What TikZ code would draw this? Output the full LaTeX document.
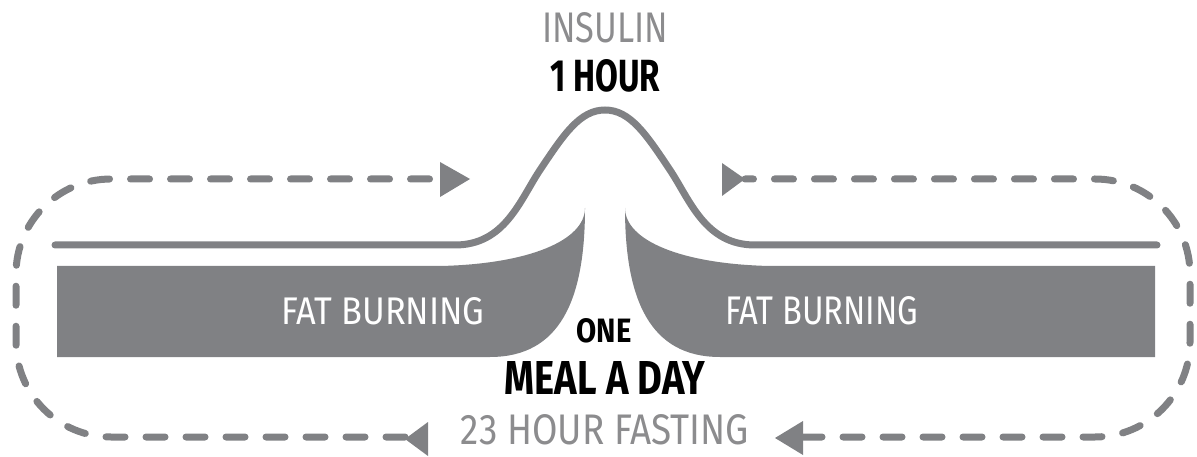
\documentclass[tikz,border=0pt]{standalone}
\usepackage{fontspec}
\setmainfont{Fira Sans}
\usepackage{graphicx}
\definecolor{bandgray}{HTML}{808184}
\definecolor{txtgray}{HTML}{8C8C8E}
\newcommand{\fitbox}[3]{\resizebox{#1pt}{#2pt}{#3}}
\begin{document}
\begin{tikzpicture}[x=1pt,y=-1pt,
  curve/.style={draw=bandgray,line width=7pt,line cap=round},
  loopline/.style={draw=bandgray,line width=7pt,line cap=round,dash pattern=on 19pt off 21pt,rounded corners=95pt},
  tri/.style={fill=bandgray},
  band/.style={fill=bandgray},
  lbl/.style={inner sep=0pt,anchor=center}]
\useasboundingbox (0,0) rectangle (1197,457);
% fat burning bands
\fill[band] (57,266) -- (440,266) .. controls (530,264) and (585,240) .. (585,208)
  .. controls (585,300) and (560,357) .. (490,357) -- (57,357) -- cycle;
\fill[band] (1155,266) -- (770,266) .. controls (680,264) and (625,240) .. (625,208)
  .. controls (625,300) and (650,357) .. (720,357) -- (1155,357) -- cycle;
% insulin curve
\draw[curve] (55,245) -- (455,245) .. controls (505,245) and (520,200) .. (540,170)
  .. controls (564,134) and (580,110) .. (605,110)
  .. controls (630,110) and (646,134) .. (670,170)
  .. controls (690,200) and (705,245) .. (755,245) -- (1157,245);
% dashed loop
\coordinate (bl) at (405,437);
\coordinate (tl) at (440,179);
\coordinate (tr) at (745,179);
\coordinate (br) at (803,437);
\draw[loopline] (br) -- (1190,437) -- (1190,179) -- (tr);
\draw[loopline] (bl) -- (16,437) -- (16,179) -- (tl);
% arrow heads
\fill[tri] (440,162) -- (470,179) -- (440,197) -- cycle;
\fill[tri] (722,163) -- (745,179) -- (722,196) -- cycle;
\fill[tri] (803,421) -- (775,438) -- (803,455) -- cycle;
\fill[tri] (428,422) -- (405,439) -- (428,456) -- cycle;
% texts
\node[lbl,text=txtgray] (insulin) at (605,28) {\fitbox{126}{30}{INSULIN}};
\node[lbl] (hour) at (605,76) {\fitbox{110}{32}{\bfseries 1 HOUR}};
\node[lbl,text=white] (fbl) at (383,311) {\fitbox{203}{27}{FAT BURNING}};
\node[lbl,text=white] (fbr) at (822,311) {\fitbox{193}{28}{FAT BURNING}};
\node[lbl] (one) at (604,331) {\fitbox{55}{24}{\bfseries ONE}};
\node[lbl] (meal) at (605,378) {\fitbox{200}{33}{\bfseries MEAL A DAY}};
\node[lbl,text=txtgray] (fast) at (605,430) {\fitbox{288}{30}{23 HOUR FASTING}};
\end{tikzpicture}
\end{document}
